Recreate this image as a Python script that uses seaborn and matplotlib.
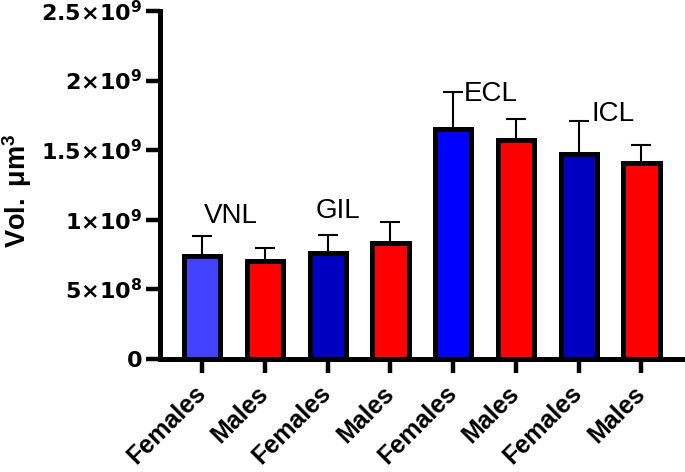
import numpy as np
import pandas as pd
import seaborn as sns
import matplotlib.pyplot as plt

# bar data (in units of 1e9 um^3)
groups = ['VNL', 'VNL', 'GIL', 'GIL', 'ECL', 'ECL', 'ICL', 'ICL']
sexes = ['Females', 'Males', 'Females', 'Males', 'Females', 'Males', 'Females', 'Males']
means = [0.739, 0.705, 0.760, 0.832, 1.649, 1.575, 1.476, 1.407]
errors = [0.145, 0.090, 0.129, 0.150, 0.269, 0.147, 0.231, 0.128]
bar_colors = ['#4343FF', '#FF0000', '#0000C0', '#FF0000', '#0000FF', '#FF0000', '#0000C0', '#FF0000']

# region labels above the bars: (text, x, y in 1e9)
region_labels = ['VNL', 'GIL', 'ECL', 'ICL']
label_x = [0.03, 1.81, 4.16, 6.20]
label_y = [0.975, 1.011, 1.855, 1.712]

yticks = [0, 0.5, 1.0, 1.5, 2.0, 2.5]
ytick_labels = ['0', r'5{\times}10^{8}', r'1{\times}10^{9}', r'1.5{\times}10^{9}',
                r'2{\times}10^{9}', r'2.5{\times}10^{9}']

sns.set_style('ticks')
plt.rcParams['font.family'] = ['Liberation Sans', 'DejaVu Sans']
# mathtext: \mathrm -> Liberation bold (y label), \mathbf -> DejaVu bold (wide tick digits)
plt.rcParams['mathtext.fontset'] = 'custom'
plt.rcParams['mathtext.rm'] = 'Liberation Sans:bold'
plt.rcParams['mathtext.bf'] = 'DejaVu Sans:bold'
plt.rcParams['mathtext.it'] = 'Liberation Sans:italic'
for key in ['text.color', 'axes.labelcolor', 'xtick.color', 'ytick.color']:
    plt.rcParams[key] = 'black'

df = pd.DataFrame({
    'bar': [f'{g} {s}' for g, s in zip(groups, sexes)],
    'sex': sexes,
    'vol': np.array(means) * 1e9,
    'err': np.array(errors) * 1e9,
})

fig = plt.figure(figsize=(6.85, 4.72), dpi=100)
ax = fig.add_axes([0.2343, 0.2394, 1 - 0.2343, 0.7373])

lw = 3.6
sns.barplot(data=df, x='bar', y='vol', hue='bar', palette=bar_colors,
            saturation=1, legend=False, width=0.58, edgecolor='black',
            linewidth=lw, errorbar=None, ax=ax, zorder=2)

# one-sided (upper) error bars, Prism style
xpos = np.arange(len(df))
ax.errorbar(xpos, df['vol'], yerr=[np.zeros(len(df)), df['err']], fmt='none',
            ecolor='black', elinewidth=1.5, capsize=7.5, capthick=1.5, zorder=1)

for txt, lx, ly in zip(region_labels, label_x, label_y):
    ax.text(lx, ly * 1e9, txt, fontsize=20, ha='left', va='baseline')

ax.set_xlim(-0.665, 7.694)
ax.set_ylim(0, 2.5e9)
ax.set_yticks(np.array(yticks) * 1e9,
              [r'$\mathbf{' + t + '}$' for t in ytick_labels])
ax.set_xticks(xpos, sexes)
for lab in ax.get_xticklabels():
    lab.set_rotation(45)
    lab.set_ha('right')
    lab.set_va('center')
    lab.set_rotation_mode('anchor')
    lab.set_fontweight('bold')

ax.tick_params(axis='both', width=3.2, length=10, color='black')
ax.tick_params(axis='y', labelsize=16, pad=3)
ax.tick_params(axis='x', labelsize=18, pad=12)
ax.set_xlabel('')
ax.set_ylabel(r'$\mathrm{Vol.\ \mu m^{3}}$', fontsize=19.5)
ax.yaxis.set_label_coords(-0.242, 0.484)

sns.despine(ax=ax)
for side in ['left', 'bottom']:
    ax.spines[side].set_linewidth(3.6)
    ax.spines[side].set_color('black')
ax.spines['left'].set_bounds(0, 2.5e9)

fig.savefig('out.png', dpi=100)
